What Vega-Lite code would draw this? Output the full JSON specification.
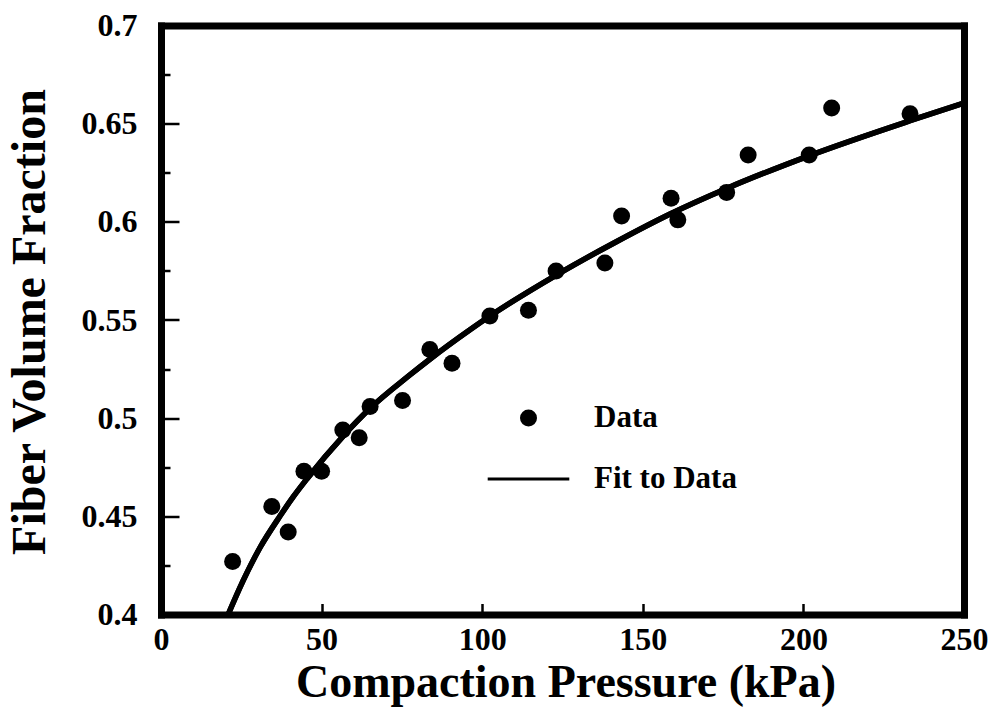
{
  "$schema": "https://vega.github.io/schema/vega-lite/v6.json",
  "width": 803,
  "height": 589,
  "autosize": {"type": "none"},
  "padding": {"left": 161, "top": 25.5, "right": 29, "bottom": 101.5},
  "background": "white",
  "view": {"stroke": "black", "strokeWidth": 2},
  "config": {
    "font": "Liberation Serif",
    "axis": {
      "grid": false,
      "domain": false,
      "domainColor": "black",
      "domainWidth": 7,
      "domainCap": "square",
      "labelFont": "Liberation Serif",
      "labelColor": "black",
      "labelFontWeight": "bold",
      "labelFontSize": 32,
      "titleFont": "Liberation Serif",
      "titleFontSize": 46,
      "titleFontWeight": "bold",
      "titleColor": "black",
      "tickColor": "black",
      "tickWidth": 2.5
    }
  },
  "datasets": {
    "points": [
      {"P": 22.3, "V": 0.427, "series": "Data"},
      {"P": 34.5, "V": 0.455, "series": "Data"},
      {"P": 39.6, "V": 0.442, "series": "Data"},
      {"P": 44.5, "V": 0.473, "series": "Data"},
      {"P": 50.0, "V": 0.473, "series": "Data"},
      {"P": 56.6, "V": 0.494, "series": "Data"},
      {"P": 61.7, "V": 0.490, "series": "Data"},
      {"P": 65.1, "V": 0.506, "series": "Data"},
      {"P": 75.2, "V": 0.509, "series": "Data"},
      {"P": 83.7, "V": 0.535, "series": "Data"},
      {"P": 90.6, "V": 0.528, "series": "Data"},
      {"P": 102.4, "V": 0.552, "series": "Data"},
      {"P": 114.4, "V": 0.555, "series": "Data"},
      {"P": 123.0, "V": 0.575, "series": "Data"},
      {"P": 138.2, "V": 0.579, "series": "Data"},
      {"P": 143.4, "V": 0.603, "series": "Data"},
      {"P": 158.8, "V": 0.612, "series": "Data"},
      {"P": 160.9, "V": 0.601, "series": "Data"},
      {"P": 176.1, "V": 0.615, "series": "Data"},
      {"P": 182.8, "V": 0.634, "series": "Data"},
      {"P": 201.8, "V": 0.634, "series": "Data"},
      {"P": 208.8, "V": 0.658, "series": "Data"},
      {"P": 233.2, "V": 0.655, "series": "Data"}
    ],
    "fit": [
      {"P": 20.9, "V": 0.400},
      {"P": 25.5, "V": 0.417},
      {"P": 30.8, "V": 0.434},
      {"P": 37.0, "V": 0.450},
      {"P": 41.2, "V": 0.460},
      {"P": 45.4, "V": 0.469},
      {"P": 56.8, "V": 0.491},
      {"P": 65.1, "V": 0.505},
      {"P": 77.5, "V": 0.522},
      {"P": 83.7, "V": 0.530},
      {"P": 96.2, "V": 0.545},
      {"P": 102.4, "V": 0.552},
      {"P": 123.2, "V": 0.573},
      {"P": 141.9, "V": 0.590},
      {"P": 158.5, "V": 0.604},
      {"P": 176.1, "V": 0.617},
      {"P": 201.5, "V": 0.6335},
      {"P": 233.2, "V": 0.6515},
      {"P": 250.0, "V": 0.6605}
    ]
  },
  "resolve": {"axis": {"x": "independent", "y": "independent"}},
  "layer": [
    {
      "data": {"name": "fit"},
      "mark": {"type": "line", "color": "black", "strokeWidth": 5.5, "interpolate": "monotone"},
      "encoding": {
        "x": {
          "field": "P",
          "type": "quantitative",
          "scale": {"domain": [0, 250], "nice": false, "zero": false},
          "axis": {
            "orient": "bottom",
            "domain": true,
            "values": [0, 50, 100, 150, 200, 250],
            "ticks": false,
            "labelPadding": 10,
            "labelFlush": false,
            "labelOverlap": false,
            "title": "Compaction Pressure (kPa)",
            "titleX": 404.5,
            "titleY": 81.5,
            "titleBaseline": "alphabetic",
            "titleAlign": "center"
          }
        },
        "y": {
          "field": "V",
          "type": "quantitative",
          "scale": {"domain": [0.4, 0.7], "nice": false, "zero": false},
          "axis": {
            "orient": "left",
            "domain": true,
            "values": [0.4, 0.45, 0.5, 0.55, 0.6, 0.65, 0.7],
            "ticks": false,
            "format": ".2~f",
            "labelPadding": 24,
            "labelFlush": false,
            "labelOverlap": false,
            "title": "Fiber Volume Fraction",
            "titleFontSize": 48,
            "titleX": -131,
            "titleY": 296,
            "titleAngle": 270,
            "titleBaseline": "middle",
            "titleAlign": "center"
          }
        }
      }
    },
    {
      "data": {"name": "fit"},
      "mark": {"type": "line", "color": "black", "strokeWidth": 5.5, "interpolate": "monotone"},
      "encoding": {
        "x": {
          "field": "P",
          "type": "quantitative",
          "axis": {
            "orient": "top",
            "domain": true,
            "ticks": false,
            "labels": false,
            "title": null
          }
        },
        "y": {
          "field": "V",
          "type": "quantitative",
          "axis": {
            "orient": "right",
            "domain": true,
            "ticks": false,
            "labels": false,
            "title": null
          }
        }
      }
    },
    {
      "data": {"name": "points"},
      "mark": {"type": "point", "filled": true, "color": "black", "size": 289, "opacity": 1},
      "encoding": {
        "x": {
          "field": "P",
          "type": "quantitative",
          "axis": {
            "orient": "top",
            "offset": -589,
            "values": [0, 50, 100, 150, 200, 250],
            "tickSize": 11,
            "labels": false,
            "title": null
          }
        },
        "y": {
          "field": "V",
          "type": "quantitative",
          "axis": {
            "orient": "right",
            "offset": -803,
            "values": [0.4, 0.425, 0.45, 0.475, 0.5, 0.525, 0.55, 0.575, 0.6, 0.625, 0.65, 0.675, 0.7],
            "tickSize": {"condition": {"test": "abs(datum.value*20 - round(datum.value*20)) < 0.001", "value": 18}, "value": 9},
            "labels": false,
            "title": null
          }
        },
        "shape": {
          "field": "series",
          "type": "nominal",
          "scale": {"domain": ["Data", "Fit to Data"], "range": ["circle", "M-4.8,-0.18H4.8V0.18H-4.8Z"]},
          "legend": {
            "orient": "none",
            "legendX": 352,
            "legendY": 377,
            "title": null,
            "labelFont": "Liberation Serif",
            "labelFontSize": 31,
            "labelFontWeight": "bold",
            "labelColor": "black",
            "symbolSize": 289,
            "symbolFillColor": "black",
            "labelOffset": 50,
            "rowPadding": 29,
            "padding": 0,
            "symbolOffset": 0
          }
        }
      }
    }
  ]
}
